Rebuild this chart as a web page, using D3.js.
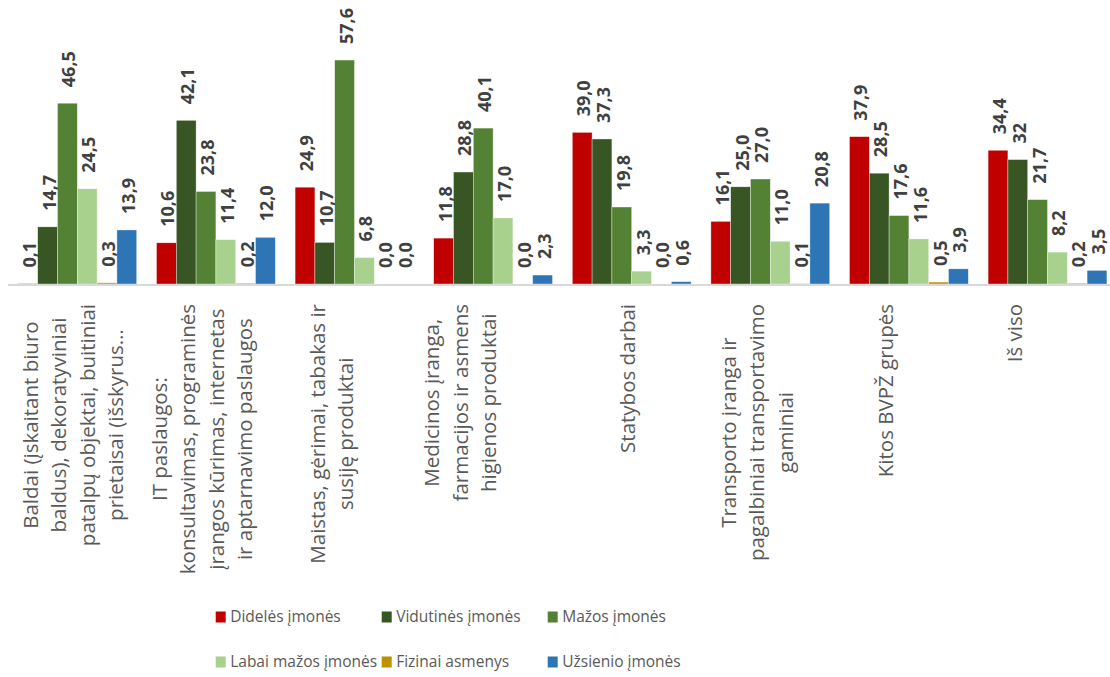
<!DOCTYPE html>
<meta charset="utf-8">
<style>
body { margin: 0; background: #fff; }
text { font-family: "Open Sans", sans-serif; }
.cat-label { fill: #595959; font-size: 20.5px; }
.bar-label { fill: #404040; font-size: 18px; font-weight: bold; }
.legend text { fill: #595959; font-size: 15.5px; }
.axis-line { stroke: #d9d9d9; stroke-width: 2px; }
</style>
<body>
<script src="https://d3js.org/d3.v7.min.js"></script>
<script>

// category names, already wrapped the way the picture shows them
var categories = [
    ["Baldai (įskaitant biuro", "baldus), dekoratyviniai", "patalpų objektai, buitiniai", "prietaisai (išskyrus…"],
    ["IT paslaugos:", "konsultavimas, programinės", "įrangos kūrimas, internetas", "ir aptarnavimo paslaugos"],
    ["Maistas, gėrimai, tabakas ir", "susiję produktai"],
    ["Medicinos įranga,", "farmacijos ir asmens", "higienos produktai"],
    ["Statybos darbai"],
    ["Transporto įranga ir", "pagalbiniai transportavimo", "gaminiai"],
    ["Kitos BVPŽ grupės"],
    ["Iš viso"]
];

var seriesNames = ["Didelės įmonės", "Vidutinės įmonės", "Mažos įmonės",
                   "Labai mažos įmonės", "Fizinai asmenys", "Užsienio įmonės"];
var seriesColors = ["#c00000", "#375623", "#548235", "#a9d18e", "#bf9000", "#2e75b6"];

var didelesImones   = [0.1, 10.6, 24.9, 11.8, 39.0, 16.1, 37.9, 34.4];
var vidutinesImones = [14.7, 42.1, 10.7, 28.8, 37.3, 25.0, 28.5, 32];
var mazosImones     = [46.5, 23.8, 57.6, 40.1, 19.8, 27.0, 17.6, 21.7];
var labaiMazos      = [24.5, 11.4, 6.8, 17.0, 3.3, 11.0, 11.6, 8.2];
var fiziniaiAsmenys = [0.3, 0.2, 0.0, 0.0, 0.0, 0.1, 0.5, 0.2];
var uzsienioImones  = [13.9, 12.0, 0.0, 2.3, 0.6, 20.8, 3.9, 3.5];

// labels shown without a decimal in the source ([series, category])
var wholeLabels = [[1, 7]];

var seriesValues = [didelesImones, vidutinesImones, mazosImones, labaiMazos, fiziniaiAsmenys, uzsienioImones];

var width = 1110, height = 677;

var svg = d3.select("body").append("svg")
        .attr("width", width)
        .attr("height", height);

// scales
var x0 = d3.scaleBand()
        .domain(d3.range(categories.length))
        .range([8, 8 + 8 * 138.6]);

var x1 = d3.scaleBand()
        .domain(d3.range(seriesNames.length))
        .range([0, x0.bandwidth()])
        .paddingInner(0)
        .paddingOuter(0.5);

var y = d3.scaleLinear().domain([0, 70]).range([284, 284 - 70 * 3.888]);

// flatten to one record per bar
var bars = [];
seriesValues.forEach(function(vals, s) {
    vals.forEach(function(v, c) {
        var whole = wholeLabels.some(function(p) { return p[0] === s && p[1] === c; });
        bars.push({series: s, cat: c, value: v,
                   label: whole ? String(v) : v.toFixed(1).replace(".", ",")});
    });
});

svg.append("g").selectAll("rect")
        .data(bars)
        .enter().append("rect")
        .attr("x", function(d) { return x0(d.cat) + x1(d.series); })
        .attr("width", x1.bandwidth())
        .attr("y", function(d) { return y(d.value); })
        .attr("height", function(d) { return y(0) - y(d.value); })
        .attr("fill", function(d) { return seriesColors[d.series]; })
        .attr("stroke", "#fff")
        .attr("stroke-width", 0.6)
        .attr("stroke-opacity", 0.6);

// axis line
svg.append("line")
        .attr("class", "axis-line")
        .attr("x1", 8).attr("x2", width)
        .attr("y1", y(0) + 1).attr("y2", y(0) + 1);

// value labels, rotated
svg.append("g").selectAll("text")
        .data(bars)
        .enter().append("text")
        .attr("class", "bar-label")
        .attr("transform", function(d) {
            var cx = x0(d.cat) + x1(d.series) + x1.bandwidth() / 2;
            return "translate(" + (cx + 8) + "," + (y(d.value) - 16) + ") rotate(-90)";
        })
        .text(function(d) { return d.label; });

// category labels: lines centred on each other, block starts just below the axis
var catGroup = svg.append("g");
categories.forEach(function(lines, i) {
    // the source puts the labels a little left of the band centre, drifting within each half
    var cx = x0(i) + x0.bandwidth() / 2 - 3.7 - 9.5 * (i % 4);
    var lineGap = 28.5;
    var texts = lines.map(function(t, j) {
        var bx = cx + (j - (lines.length - 1) / 2) * lineGap + 7;
        return catGroup.append("text")
                .attr("class", "cat-label")
                .attr("text-anchor", "middle")
                .attr("data-bx", bx)
                .text(t);
    });
    var maxLen = d3.max(texts, function(t) { return t.node().getComputedTextLength(); });
    var cy = 304 + maxLen / 2;
    texts.forEach(function(t) {
        t.attr("transform", "translate(" + t.attr("data-bx") + "," + cy + ") rotate(-90)");
    });
});

// legend, 3 columns x 2 rows
var legend = svg.append("g").attr("class", "legend");
var legendCols = [215.7, 381.7, 547.7], legendRows = [617, 662];
seriesNames.forEach(function(name, i) {
    var lx = legendCols[i % 3], ly = legendRows[Math.floor(i / 3)];
    var item = legend.append("g");
    item.append("rect")
            .attr("x", lx).attr("y", ly - 5.5)
            .attr("width", 10).attr("height", 11)
            .attr("fill", seriesColors[i]);
    item.append("text")
            .attr("x", lx + 14.5).attr("y", ly)
            .attr("dy", "0.35em")
            .text(name);
});

</script>
</body>
